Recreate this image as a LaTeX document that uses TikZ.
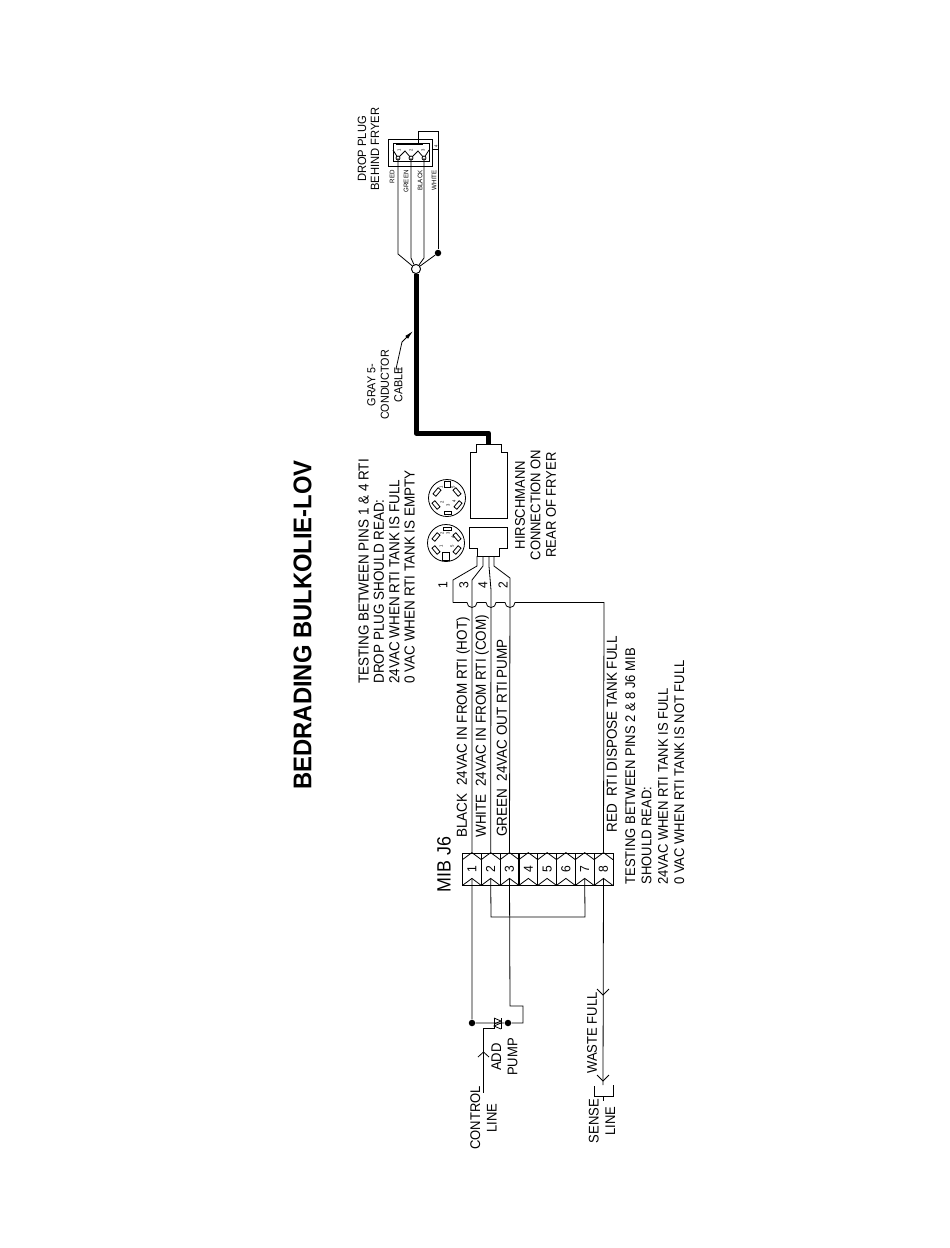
\documentclass[tikz,border=0pt]{standalone}
\usepackage{fontspec}
\setmainfont{Liberation Sans}[FakeStretch=0.93]
\usetikzlibrary{arrows.meta}

\begin{document}
\begin{tikzpicture}[x=1pt,y=-1pt,line width=0.8pt,
        txt/.style={rotate=90,inner sep=0pt,font=\fontsize{14}{16.3}\selectfont},
        wide/.style={rotate=90,inner sep=0pt,font=\fontsize{14.5}{15.4}\selectfont},
        small/.style={rotate=90,inner sep=0pt,font=\fontsize{6.6}{7}\selectfont},
        tiny/.style={rotate=90,inner sep=0pt,font=\fontsize{4.5}{5}\selectfont},
        cell/.style={rotate=90,draw,minimum width=32pt,minimum height=18.9pt,inner sep=0pt,font=\fontsize{13}{14}\selectfont},
        dot/.style={circle,fill=black,inner sep=0pt,minimum size=6.5pt},
        joint/.style={circle,draw,fill=white,inner sep=0pt,minimum size=9pt},
        pinpad/.style={draw,rotate=#1,minimum width=8pt,minimum height=3.8pt,inner sep=0pt},
        face/.style={circle,draw,inner sep=0pt,minimum size=37pt}]
    \useasboundingbox (0,0) rectangle (950,1248);

    % titles
    \node[txt,anchor=west,font=\bfseries\fontsize{25.6}{28}\selectfont] (title) at (302.5,790) {BEDRADING BULKOLIE-LOV};
    \node[txt,anchor=west,font=\fontsize{19.2}{22}\selectfont] (mibtitle) at (444,893) {MIB J6};

    % terminal strip
    \foreach \i in {1,...,8} {
        \node[cell] (j\i) at ({462.5+18.8*(\i-0.5)},869) {\i};
        \draw ([xshift=-9.4pt,yshift=-7pt]j\i.east) -- (j\i.east) -- ([xshift=9.4pt,yshift=-7pt]j\i.east);
        \coordinate (b\i) at ([yshift=7pt]j\i.west);
        \draw ([xshift=-9.4pt]j\i.west) -- (b\i) -- ([xshift=9.4pt]j\i.west);
    }

    % drop plug
    \node[draw,minimum width=44pt,minimum height=27pt,inner sep=0pt] (plugbox) at (410.5,152.5) {};
    \draw (393,143) rectangle (429,161);
    \draw[line width=1.3pt] (396,144.5) -- (423,144.5);
    \coordinate (r1) at (398,158);
    \coordinate (r2) at (411,158);
    \coordinate (r3) at (424,158);
    \draw (393,150) -- (r1) -- (405,151) -- (r2) -- (418,151) -- (r3) -- (429,150);
    \foreach \c in {r1,r2,r3} \node[circle,draw,fill=white,inner sep=0pt,minimum size=4pt] at (\c) {};
    \node[tiny] (n1) at (399,150) {1};
    \node[tiny] (n2) at (411,150) {2};
    \node[tiny] (n3) at (423,150) {3};
    \node[tiny] (n4) at (436,146) {4};
    \draw (433,149) -- (438,149);
    \node[joint] (hub) at (416,269) {};
    \node[dot] (whitedot) at (438,253) {};
    \draw (418,144) -- (418,131) -- (438,131) -- (whitedot);
    \draw (whitedot) -- (hub);
    \draw (r1) -- (398,254) -- (hub);
    \draw (r2) -- (411,258) -- (hub);
    \draw (r3) -- (424,258) -- (hub);
    \node[small,anchor=east] (redlabel) at (392,170) {RED};
    \node[small,anchor=east] (greenlabel) at (406,170) {GREEN};
    \node[small,anchor=east] (blacklabel) at (420,170) {BLACK};
    \node[small,anchor=east] (whitelabel) at (434,170) {WHITE};
    \node[txt,align=center,font=\fontsize{12}{13}\selectfont] (droplabel) at (368.5,149) {DROP PLUG\\BEHIND FRYER};

    % gray cable
    \coordinate (hirs) at (488.5,445);
    \draw[line width=5pt,line join=round] (hub) -- (416,433) -- (488.5,433) -- (hirs);
    \node[joint] at (hub) {};
    \node[txt,align=center,font=\fontsize{11.6}{13.5}\selectfont] (cablelabel) at (385,385) {GRAY 5-\\CONDUCTOR\\CABLE};
    \coordinate (cabletip) at (413,331);
    \draw[-{Latex[length=9pt,width=4pt]}] (402,369) -- (396,369) -- (402,342) -- (cabletip);

    % hirschmann connector
    \draw (476,444) -- (501,444) -- (501,452) -- (507,452) -- (507,518) -- (470,518) -- (470,452) -- (476,452) -- cycle;
    \draw (469,527) -- (507,527) -- (507,548) -- (499,548) -- (499,556) -- (477,556) -- (477,548) -- (469,548) -- cycle;
    \node[txt,align=center,font=\fontsize{14}{15.5}\selectfont] (hirslabel) at (535.5,505) {HIRSCHMANN\\CONNECTION ON\\REAR OF FRYER};

    % connector faces
    \node[face] (faceup) at (447,498) {};
    \node[draw,minimum size=6pt,inner sep=0pt] at (447,484) {};
    \node[draw,minimum width=7pt,minimum height=3pt,inner sep=0pt] at (448,513) {};
    \node[pinpad=50] at (437,492) {};
    \node[pinpad=-50] at (457,492) {};
    \node[pinpad=-50] at (436,505) {};
    \node[pinpad=50] at (458,505) {};
    \node[tiny] at (441,487) {1};
    \node[tiny] at (442,502) {2};
    \node[tiny] at (448,505) {3};
    \node[tiny] at (454,501) {4};
    \node[tiny] at (453,487) {5};
    \node[face] (facedown) at (446,543) {};
    \node[draw,minimum width=7pt,minimum height=8pt,inner sep=0pt] at (446,556) {};
    \node[draw,minimum width=8pt,minimum height=3pt,inner sep=0pt] at (447,529) {};
    \node[pinpad=50] at (436,537) {};
    \node[pinpad=-50] at (457,537) {};
    \node[pinpad=-50] at (436,550) {};
    \node[pinpad=50] at (457,550) {};
    \node[tiny] at (442,533) {2};
    \node[tiny] at (448,533) {3};
    \node[tiny] at (453,537) {4};
    \node[tiny] at (441,546) {1};
    \node[tiny] at (452,546) {5};

    % wires out of the connector
    \coordinate (c1) at (477,556);
    \coordinate (c2) at (483,556);
    \coordinate (c3) at (489,556);
    \coordinate (c4) at (494,556);
    \draw (c1) -- (477,566) -- (453,580) -- (453,602.5);
    \draw (c2) -- (483,566) -- (472,580) -- (j1.east);
    \draw (c3) -- (489,566) -- (491,590) -- (j2.east);
    \draw (c4) -- (494,566) -- (510,578) -- (j3.east);
    \draw (453,602.5) -- (467,602.5) arc (180:0:5) -- (486,602.5) arc (180:0:5) -- (505,602.5) arc (180:0:5) -- (604,602.5) -- (j8.east);
    \node[txt,font=\fontsize{13}{14}\selectfont] (p1) at (443,585) {1};
    \node[txt,font=\fontsize{13}{14}\selectfont] (p3) at (464,585) {3};
    \node[txt,font=\fontsize{13}{14}\selectfont] (p4) at (483,585) {4};
    \node[txt,font=\fontsize{13}{14}\selectfont] (p2) at (503,585) {2};

    % text blocks
    \node[wide,anchor=north west,align=left] (dropnote) at (358,684) {TESTING BETWEEN PINS 1 \& 4 RTI\\DROP PLUG SHOULD READ:\\24VAC WHEN RTI TANK IS FULL\\0 VAC WHEN RTI TANK IS EMPTY};
    \node[wide,anchor=west] (wire1) at (463,838) {BLACK\ \ 24VAC IN FROM RTI (HOT)};
    \node[wide,anchor=west] (wire2) at (482,838) {WHITE\ \ 24VAC IN FROM RTI (COM)};
    \node[wide,anchor=west] (wire3) at (502,837) {GREEN\ \ 24VAC OUT RTI PUMP};
    \node[wide,anchor=west] (wire8) at (612,833) {RED\ \ RTI DISPOSE TANK FULL};
    \node[txt,anchor=north west,align=left] (mibnote) at (625,885) {TESTING BETWEEN PINS 2 \& 8 J6 MIB\\SHOULD READ:\\24VAC WHEN RTI TANK IS FULL\\0 VAC WHEN RTI TANK IS NOT FULL};

    % below the strip
    \node[dot] (hotdot) at (472,1023) {};
    \node[dot] (pumpdot) at (508,1023) {};
    \draw (b1) -- (hotdot);
    \draw (b2) -- (491,917) -- (585,917) -- (b7);
    \draw (b3) -- (510,1006) -- (523,1006) -- (523,1023) -- (pumpdot) -- (hotdot);
    \draw (494,1018) -- (494,1029) (501,1018) -- (501,1029);
    \draw (494,1018) -- (501,1021) -- (494,1024) (501,1023) -- (494,1026) -- (501,1029);
    \coordinate (gate) at (495,1028);
    \coordinate (controlend) at (483.5,1093);
    \draw (gate) -- (483.5,1028) -- (controlend);
    \draw (478,1057) -- (483.5,1052) -- (489,1057);
    \node[txt,align=center] (controllabel) at (483.5,1118) {CONTROL\\LINE};
    \node[txt,align=center] (addlabel) at (504.5,1057) {ADD\\PUMP};
    \coordinate (senseend) at (603,1085);
    \draw (b8) -- (senseend);
    \draw (597,989) -- (603,995) -- (609,989);
    \draw (597,1075) -- (603,1081) -- (609,1075);
    \draw (594,1086) -- (594,1096) -- (613,1096) -- (613,1085);
    \draw (603,1096) -- (603,1101);
    \node[txt,anchor=west] (wastelabel) at (592,1074) {WASTE FULL};
    \node[txt,align=center] (senselabel) at (602,1121) {SENSE\\LINE};
\end{tikzpicture}
\end{document}
